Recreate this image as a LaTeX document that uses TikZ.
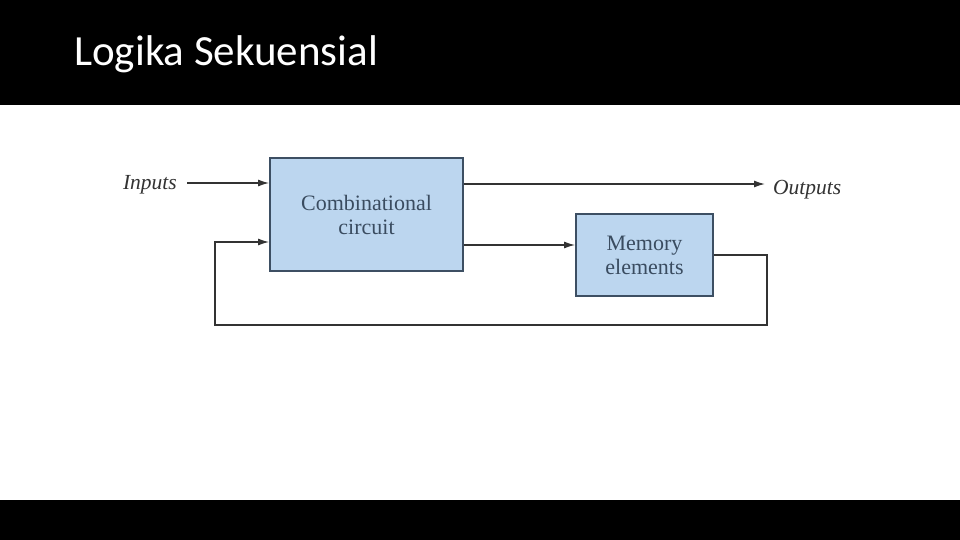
\documentclass[tikz,border=0pt]{standalone}
\usepackage{fontspec}
\setmainfont{Liberation Serif}
\newfontfamily\titlefont{Carlito}
\usetikzlibrary{arrows.meta,calc}
\definecolor{boxfill}{HTML}{BCD6EF}
\definecolor{boxedge}{HTML}{3D4F63}
\definecolor{boxtext}{HTML}{3A4C60}
\definecolor{wire}{HTML}{333333}
\tikzset{
  blockbox/.style={draw=boxedge, line width=1.8pt, fill=boxfill, text=boxtext,
    inner sep=0pt, align=center, font=\fontsize{22}{24}\selectfont},
  sigtext/.style={text=wire, inner sep=0pt, font=\fontsize{21.5}{24}\selectfont\itshape},
  wireline/.style={draw=wire, line width=1.4pt},
  arrowline/.style={wireline, -{Latex[length=11pt,width=7pt]}},
}
\begin{document}
\begin{tikzpicture}[x=1pt,y=-1pt]
\useasboundingbox (0,0) rectangle (960,540);
\fill[white] (0,0) rectangle (960,540);
\fill[black] (0,0) rectangle (960,105);
\fill[black] (0,500) rectangle (960,540);
\node[anchor=base west, text=white, inner sep=0pt, font=\titlefont\fontsize{43}{48}\selectfont] (title) at (74,66) {Logika Sekuensial};

\node[blockbox, minimum width=193pt, minimum height=113pt] (comb) at (366.5,214.5) {Combinational\\circuit};
\node[blockbox, minimum width=137pt, minimum height=82pt] (mem) at (644.5,255) {Memory\\elements};

\node[sigtext, anchor=east] (inp) at (177,185) {Inputs};
\node[sigtext, anchor=west] (out) at (773,190) {Outputs};

\coordinate (ctop) at (463,184);
\coordinate (c2m) at (463,245);
\coordinate (fb1) at (767,255);
\coordinate (fb2) at (215,325);
\coordinate (fbin) at (270,242);

\draw[arrowline] ([xshift=10pt]inp.east |- 0,183) -- (comb.west |- 0,183);
\draw[arrowline] (comb.east |- ctop) -- ([xshift=-8pt]out.west |- ctop);
\draw[arrowline] (comb.east |- c2m) -- (mem.west |- c2m);
\draw[arrowline] (mem.east |- fb1) -- (fb1) -- (fb1 |- fb2) -- (fb2) |- (comb.west |- fbin);
\end{tikzpicture}
\end{document}
